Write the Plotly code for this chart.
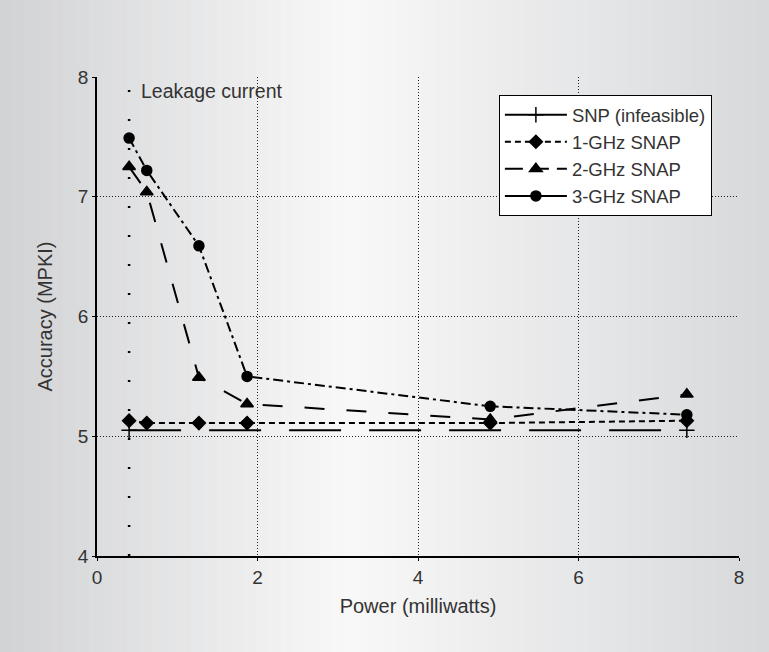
import plotly.graph_objects as go

# ---- data ----
power = [0.40, 0.62, 1.27, 1.87, 4.90, 7.35]
snp_x = [0.40, 7.35]
snp = [5.05, 5.05]
ghz1 = [5.13, 5.11, 5.11, 5.11, 5.11, 5.13]
ghz2 = [7.25, 7.04, 5.49, 5.27, 5.14, 5.35]
ghz3 = [7.49, 7.22, 6.59, 5.50, 5.25, 5.18]
leak_x = [0.40, 0.40]
leak_y = [4, 8]
names = ["SNP (infeasible)", "1-GHz SNAP", "2-GHz SNAP", "3-GHz SNAP"]
x_ticks = [0, 2, 4, 6, 8]
y_ticks = [4, 5, 6, 7, 8]

FONT = "Liberation Sans"
TXT = "#333333"

fig = go.Figure()

styles = [
    dict(x=snp_x, series=snp, dash="52px,28px", symbol="cross-thin-open", msize=11, ldash="solid"),
    dict(x=power, series=ghz1, dash="6px,4px", symbol="diamond", msize=10, ldash="6px,4px"),
    dict(x=power, series=ghz2, dash="20px,22px", symbol="triangle-up", msize=11, ldash="18px,8px"),
    dict(x=power, series=ghz3, dash="10px,4px,3px,4px", symbol="circle", msize=10, ldash="solid"),
]

# leakage current line
fig.add_trace(go.Scatter(x=leak_x, y=leak_y, mode="lines",
                         line=dict(color="black", width=2.5, dash="2px,27px"),
                         showlegend=False, hoverinfo="skip"))

for nm, st in zip(names, styles):
    mk = dict(symbol=st["symbol"], size=st["msize"], color="black",
              line=dict(color="black", width=1.5))
    fig.add_trace(go.Scatter(x=st["x"], y=st["series"], mode="lines+markers",
                             line=dict(color="black", width=2, dash=st["dash"]),
                             marker=mk, name=nm, showlegend=False))
    fig.add_trace(go.Scatter(x=[None], y=[None], mode="lines+markers",
                             line=dict(color="black", width=2, dash=st["ldash"]),
                             marker=mk, name=nm, showlegend=True))

# gradient background strips
def mix(a, b, t):
    return tuple(round(a[i] + (b[i] - a[i]) * t) for i in range(3))

left = (209, 210, 212)
mid = (248, 248, 248)
right = (216, 217, 219)
n = 60
shapes = []
W, L, R = 769, 97, 30
pw = W - L - R
for i in range(n):
    px0 = W * i / n - 1
    px1 = W * (i + 1) / n + 1
    c = (px0 + px1) / 2 / W
    if c < 0.45:
        col = mix(left, mid, max(c, 0) / 0.45)
    else:
        col = mix(mid, right, (c - 0.45) / 0.55)
    shapes.append(dict(type="rect", xref="paper", yref="paper", layer="below",
                       x0=(px0 - L) / pw, x1=(px1 - L) / pw, y0=-0.5, y1=1.5,
                       fillcolor="rgb(%d,%d,%d)" % col, line=dict(width=0)))

fig.update_layout(
    width=769, height=652,
    margin=dict(l=97, r=30, t=77, b=96),
    paper_bgcolor="#e6e7e8",
    plot_bgcolor="white",
    font=dict(family=FONT, color=TXT, size=16),
    shapes=shapes,
    showlegend=True,
    legend=dict(x=0.626, y=0.962, xanchor="left", yanchor="top",
                bgcolor="white", bordercolor="black", borderwidth=1,
                font=dict(family=FONT, size=18.5, color=TXT),
                tracegroupgap=0, itemwidth=62),
    annotations=[dict(x=0.52, y=7.88, xref="x", yref="y", text="Leakage current",
                      showarrow=False, xanchor="left", yanchor="middle",
                      font=dict(family=FONT, size=19.5, color=TXT))],
)

common = dict(showgrid=True, gridcolor="#222222", griddash="1px,2px", gridwidth=1,
              showline=True, linecolor="black", linewidth=1.5, mirror=False,
              ticks="outside", ticklen=3, tickcolor="black", zeroline=False,
              tickfont=dict(size=19, color=TXT))
fig.update_xaxes(range=[0, 8], tickvals=x_ticks, ticktext=[str(v) for v in x_ticks],
                 title=dict(text="Power (milliwatts)", font=dict(size=20, color=TXT), standoff=12),
                 **common)
fig.update_yaxes(range=[4, 8], tickvals=y_ticks, ticktext=[str(v) for v in y_ticks],
                 title=dict(text="Accuracy (MPKI)", font=dict(size=20, color=TXT), standoff=20),
                 **common)

fig.write_html("out.html", config={"displayModeBar": False},
               post_script="document.body.style.margin='0';document.body.style.overflow='hidden';")
